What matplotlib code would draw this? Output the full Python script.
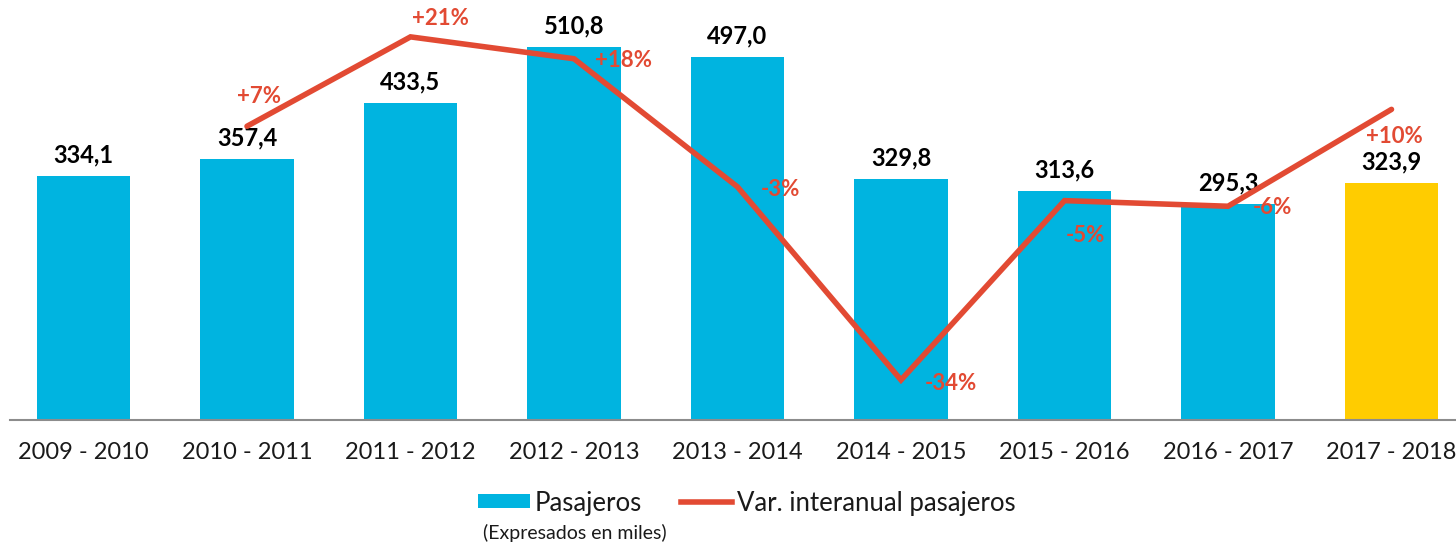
import matplotlib
matplotlib.use("Agg")
import matplotlib.pyplot as plt
from matplotlib.patches import Patch
from matplotlib.lines import Line2D

categories = ["2009 - 2010", "2010 - 2011", "2011 - 2012", "2012 - 2013", "2013 - 2014",
              "2014 - 2015", "2015 - 2016", "2016 - 2017", "2017 - 2018"]
pasajeros = [334.1, 357.4, 433.5, 510.8, 497.0, 329.8, 313.6, 295.3, 323.9]
pasajeros_labels = ["334,1", "357,4", "433,5", "510,8", "497,0", "329,8", "313,6", "295,3", "323,9"]
variacion = [7.0, 21.3, 17.8, -2.7, -33.6, -4.9, -5.8, 9.7]
variacion_labels = ["+7%", "+21%", "+18%", "-3%", "-34%", "-5%", "-6%", "+10%"]

BLUE = "#00B4E0"
YELLOW = "#FFCC00"
RED = "#E24A33"

plt.rcParams["font.family"] = ["Lato", "DejaVu Sans"]

W, H = 1456, 543
fig = plt.figure(figsize=(W / 100, H / 100), dpi=100)
ax = fig.add_axes([10 / W, 123 / H, (W - 10) / W, 420 / H])
ax2 = ax.twinx()

x = list(range(len(categories)))
colors = [BLUE] * (len(categories) - 1) + [YELLOW]
ax.bar(x, pasajeros, width=0.57, color=colors, zorder=2)
for xi, v, lab in zip(x, pasajeros, pasajeros_labels):
    ax.annotate(lab, (xi, v), xytext=(0, 7), textcoords="offset points",
                ha="center", va="bottom", fontsize=17, fontweight="bold", color="black")

ax.set_xlim((10 - 83.5) / 163.5, (W - 83.5) / 163.5)
ax.set_ylim(0, 575)
ax.set_xticks(x)
ax.set_xticklabels(categories, fontsize=17, color="#1a1a1a")
ax.tick_params(axis="x", length=0, pad=16)
ax.set_yticks([])
for s in ["top", "left", "right"]:
    ax.spines[s].set_visible(False)
ax.spines["bottom"].set_color("#8c8c8c")
ax.spines["bottom"].set_linewidth(1.5)

xl = x[1:]
ax2.plot(xl, variacion, color=RED, lw=4, solid_capstyle="round", solid_joinstyle="miter", zorder=3)
ax2.set_ylim(-40, 27.2)
ax2.set_yticks([])
for s in ["top", "left", "right", "bottom"]:
    ax2.spines[s].set_visible(False)

offsets = [(12, -30), (30, -18), (50, 2), (43, 3), (50, 3), (21, 35), (44, 1), (3, 27)]
for xi, v, lab, (dx, dy) in zip(xl, variacion, variacion_labels, offsets):
    ax2.annotate(lab, (xi, v), xytext=(dx * 0.72, -dy * 0.72), textcoords="offset points",
                 ha="center", va="center", fontsize=16, fontweight="bold", color=RED)

handles = [Patch(facecolor=BLUE, edgecolor="none", label="Pasajeros"),
           Line2D([0], [0], color=RED, lw=4, label="Var. interanual pasajeros")]
leg = fig.legend(handles=handles, loc="center", bbox_to_anchor=(747 / W, 1 - 503 / H), ncol=2,
                 frameon=False, handlelength=2.0, handleheight=0.45,
                 handletextpad=0.2, columnspacing=1.5, borderaxespad=0, borderpad=0,
                 prop={"size": 18.5, "weight": "normal"})
for t in leg.get_texts():
    t.set_color("#1a1a1a")
fig.text(483 / W, 1 - 533 / H, "(Expresados en miles)", fontsize=14, color="#1a1a1a",
         ha="left", va="center")

fig.savefig("out.png", dpi=100)
